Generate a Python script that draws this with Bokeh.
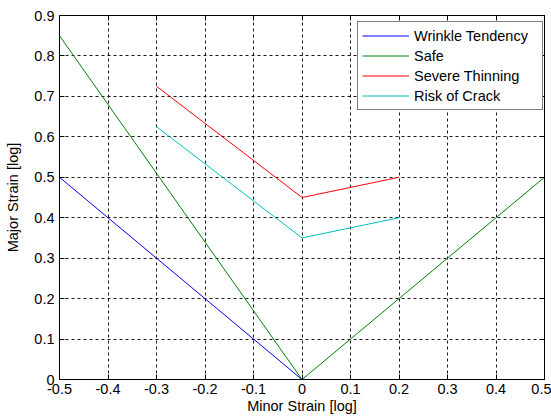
from bokeh.plotting import figure
from bokeh.models import Range1d, FixedTicker, LinearAxis, CustomJSTickFormatter, Legend, LegendItem
from bokeh.embed import file_html
from bokeh.resources import INLINE

# Data
wrinkle_x = [-0.5, 0.0]
wrinkle_y = [0.5, 0.0]
safe_x = [-0.5, 0.0, 0.5]
safe_y = [0.85, 0.0, 0.5]
thinning_x = [-0.3, 0.0, 0.2]
thinning_y = [0.725, 0.45, 0.5]
crack_x = [-0.3, 0.0, 0.2]
crack_y = [0.625, 0.35, 0.4]

x_ticks = [-0.5, -0.4, -0.3, -0.2, -0.1, 0, 0.1, 0.2, 0.3, 0.4, 0.5]
x_tick_labels = ["-0.5", "-0.4", "-0.3", "-0.2", "-0.1", "0", "0.1", "0.2", "0.3", "0.4", "0.5"]
y_ticks = [0, 0.1, 0.2, 0.3, 0.4, 0.5, 0.6, 0.7, 0.8, 0.9]
y_tick_labels = ["0", "0.1", "0.2", "0.3", "0.4", "0.5", "0.6", "0.7", "0.8", "0.9"]

FONT = "Liberation Sans"
FS = "14.5px"

p = figure(width=551, height=417, output_backend="svg", toolbar_location=None,
           x_range=Range1d(-0.5, 0.5), y_range=Range1d(0, 0.9),
           min_border_left=59, min_border_right=7, min_border_top=15, min_border_bottom=38,
           x_axis_label="Minor Strain [log]", y_axis_label="Major Strain [log]")
p.background_fill_color = "white"
p.border_fill_color = "white"
p.outline_line_color = "black"
p.outline_line_width = 1

for ax, ticks, labels in ((p.xaxis[0], x_ticks, x_tick_labels), (p.yaxis[0], y_ticks, y_tick_labels)):
    ax.ticker = FixedTicker(ticks=ticks)
    ax.major_label_overrides = {t: l for t, l in zip(ticks, labels)}
    ax.major_tick_in = 5
    ax.major_tick_out = 0
    ax.minor_tick_in = 0
    ax.minor_tick_out = 0
    ax.axis_line_color = "black"
    ax.major_tick_line_color = "black"
    ax.major_label_text_font = FONT
    ax.major_label_text_font_size = FS
    ax.major_label_text_color = "black"
    ax.axis_label_text_font = FONT
    ax.axis_label_text_font_size = FS
    ax.axis_label_text_font_style = "normal"
    ax.axis_label_text_color = "black"

p.xaxis.major_label_standoff = 4
p.xaxis.axis_label_standoff = 1
p.yaxis.major_label_standoff = 5
p.yaxis.axis_label_standoff = 10

for loc, ticks in (("above", x_ticks), ("right", y_ticks)):
    ax = LinearAxis(ticker=FixedTicker(ticks=ticks),
                    formatter=CustomJSTickFormatter(code="return '';"),
                    major_tick_in=5, major_tick_out=0, minor_tick_in=0, minor_tick_out=0,
                    major_label_standoff=0, axis_line_color="black", major_tick_line_color="black")
    p.add_layout(ax, loc)

for g in (p.xgrid[0], p.ygrid[0]):
    g.grid_line_color = "black"
    g.grid_line_dash = "3 3"
    g.grid_line_alpha = 0.9
    g.grid_line_width = 1
p.xgrid.ticker = FixedTicker(ticks=x_ticks)
p.ygrid.ticker = FixedTicker(ticks=y_ticks)

r1 = p.line(wrinkle_x, wrinkle_y, line_color="#0000ff", line_width=1)
r2 = p.line(safe_x, safe_y, line_color="#008000", line_width=1)
r3 = p.line(thinning_x, thinning_y, line_color="#ff0000", line_width=1)
r4 = p.line(crack_x, crack_y, line_color="#00bfbf", line_width=1)

legend = Legend(items=[
    LegendItem(label="Wrinkle Tendency", renderers=[r1]),
    LegendItem(label="Safe", renderers=[r2]),
    LegendItem(label="Severe Thinning", renderers=[r3]),
    LegendItem(label="Risk of Crack", renderers=[r4]),
], location=(298, 269))
legend.border_line_color = "black"
legend.border_line_width = 1
legend.background_fill_color = "white"
legend.background_fill_alpha = 1
legend.label_text_font = FONT
legend.label_text_font_size = FS
legend.label_text_color = "black"
legend.padding = 4
legend.spacing = 1
legend.glyph_width = 47
legend.glyph_height = 19
legend.label_height = 19
legend.label_width = 124
legend.label_standoff = 5
legend.margin = 0
p.add_layout(legend, "center")

open("out.html", "w").write(file_html(p, INLINE))
